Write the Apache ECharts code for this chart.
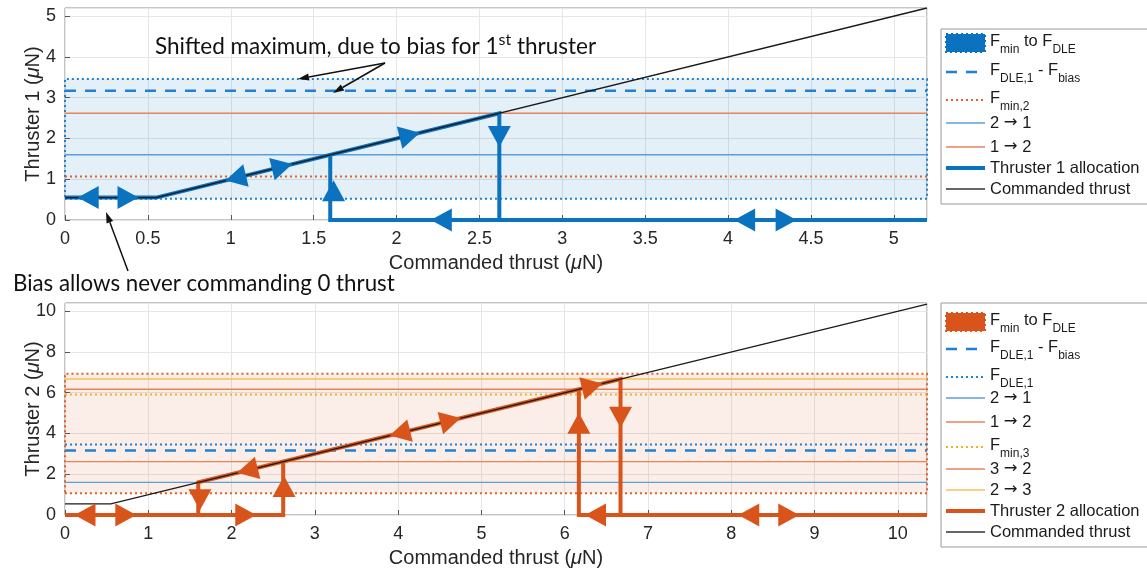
<!DOCTYPE html>
<html>
<head>
<meta charset="utf-8">
<script src="https://cdn.jsdelivr.net/npm/echarts@6/dist/echarts.min.js"></script>
<style>
  html, body { margin: 0; padding: 0; background: #fff; }
  #main { width: 1147px; height: 573px; }
</style>
</head>
<body>
<div id="main"></div>
<script>
// ---- values (uN) ----
var bias = 0.55;                       // commanded thrust never below this
var fMin1 = 0.52, fDle1 = 3.46;        // thruster 1 band
var fMin2 = 1.07, fDle2 = 6.93;        // thruster 2 band
var fDle1MinusBias = 3.17;
var fMin3 = 5.91;
var sw21 = 1.6, sw12 = 2.62;           // switch levels 2->1, 1->2
var sw32 = 6.17, sw23 = 6.67;          // switch levels 3->2, 2->3
var xMax1 = 5.2, yMax1 = 5.2;
var xMax2 = 10.35, yMax2 = 10.4;

// direction arrows on the allocation paths: [x, y, direction]
var t1Arrows = [
  [0.14, 0.55, 'L'], [0.38, 0.55, 'R'], [1.03, 1.03, 'DL'], [1.31, 1.31, 'UR'],
  [1.62, 0.72, 'U'], [2.08, 2.08, 'UR'], [2.62, 2.05, 'D'], [2.27, 0, 'L'],
  [4.1, 0, 'L'], [4.35, 0, 'R']
];
var t2Arrows = [
  [0.24, 0, 'L'], [0.73, 0, 'R'], [1.62, 0.75, 'D'], [2.17, 0, 'R'],
  [2.63, 1.4, 'U'], [2.19, 2.19, 'DL'], [4.02, 4.02, 'DL'], [4.63, 4.63, 'UR'],
  [6.33, 6.33, 'UR'], [6.17, 4.5, 'U'], [6.67, 4.8, 'D'], [6.37, 0, 'L'],
  [8.21, 0, 'L'], [8.69, 0, 'R']
];

// paths
var t1Path = [[0, bias], [bias, bias], [sw12, sw12], [sw12, 0]];
var t1Path2 = [[sw21, sw21], [sw21, 0], [xMax1, 0]];
var t2Path = [[0, 0], [sw12, 0], [sw12, sw12]];
var t2Path2 = [[sw21, 0], [sw21, sw21], [sw23, sw23], [sw23, 0]];
var t2Path3 = [[sw32, sw32], [sw32, 0], [xMax2, 0]];
var cmd1 = [[0, bias], [bias, bias], [xMax1, xMax1]];
var cmd2 = [[0, bias], [bias, bias], [xMax2, xMax2]];

var legend1Labels = [
  [['F', 'n'], ['min', 's'], [' to F', 'n'], ['DLE', 's']],
  [['F', 'n'], ['DLE,1', 's'], [' - F', 'n'], ['bias', 's']],
  [['F', 'n'], ['min,2', 's']],
  [['2 ', 'n'], ['\u2192', 'a'], [' 1', 'n']],
  [['1 ', 'n'], ['\u2192', 'a'], [' 2', 'n']],
  [['Thruster 1 allocation', 'n']],
  [['Commanded thrust', 'n']]
];
var legend2Labels = [
  [['F', 'n'], ['min', 's'], [' to F', 'n'], ['DLE', 's']],
  [['F', 'n'], ['DLE,1', 's'], [' - F', 'n'], ['bias', 's']],
  [['F', 'n'], ['DLE,1', 's']],
  [['2 ', 'n'], ['\u2192', 'a'], [' 1', 'n']],
  [['1 ', 'n'], ['\u2192', 'a'], [' 2', 'n']],
  [['F', 'n'], ['min,3', 's']],
  [['3 ', 'n'], ['\u2192', 'a'], [' 2', 'n']],
  [['2 ', 'n'], ['\u2192', 'a'], [' 3', 'n']],
  [['Thruster 2 allocation', 'n']],
  [['Commanded thrust', 'n']]
];

// ---- styles ----
var FONT = '"Liberation Sans", Arial, sans-serif';
var BLUE = '#0b72c0', ORANGE = '#d9541a', YELLOW = '#eeb123';
var BLUE_DOT = '#1f80d4', BLUE_THIN = '#5a9fdc';
var ORANGE_DOT = '#e3602a', ORANGE_THIN = '#e8825a';
var YELLOW_THIN = '#f3c25a';
var DOT = [2, 3], DASH = [11, 9];

var G1 = { left: 65, top: 8, width: 862, height: 212 };
var G2 = { left: 65, top: 303, width: 862, height: 212 };

var chart = echarts.init(document.getElementById('main'), null, { renderer: 'canvas' });

function slopeDeg(g, xm, ym) {
  return Math.atan((g.height / ym) / (g.width / xm)) * 180 / Math.PI;
}
function rotFor(dir, ang) {
  return { L: 90, R: -90, U: 0, D: 180, UR: -90 + ang, DL: 90 + ang }[dir];
}

function xAx(gi, max, step) {
  return {
    type: 'value', gridIndex: gi, min: 0, max: max, interval: step,
    name: 'Commanded thrust ({i|\u03bc}N)', nameLocation: 'middle', nameGap: 33,
    nameTextStyle: { fontSize: 20, fontFamily: FONT, color: '#262626',
      rich: { i: { fontSize: 20, fontFamily: FONT, fontStyle: 'italic', color: '#262626' } } },
    axisLine: { show: false },
    axisTick: { inside: true, length: 5, lineStyle: { color: '#555' } },
    axisLabel: { fontSize: 18, fontFamily: FONT, color: '#262626', margin: 10, showMaxLabel: false },
    splitLine: { show: true, lineStyle: { color: '#e6e6e6', width: 1 } }
  };
}
function yAx(gi, max, step, label) {
  return {
    type: 'value', gridIndex: gi, min: 0, max: max, interval: step,
    name: label + ' ({i|\u03bc}N)', nameLocation: 'middle', nameGap: 22,
    nameMoveOverlap: false,
    nameTextStyle: { fontSize: 20, fontFamily: FONT, color: '#262626',
      rich: { i: { fontSize: 20, fontFamily: FONT, fontStyle: 'italic', color: '#262626' } } },
    axisLine: { show: false },
    axisTick: { inside: true, length: 5, lineStyle: { color: '#555' } },
    axisLabel: { fontSize: 18, fontFamily: FONT, color: '#262626', margin: 9, showMaxLabel: false },
    splitLine: { show: true, lineStyle: { color: '#e6e6e6', width: 1 } }
  };
}

function level(gi, y, xm, color, width, type) {
  return {
    type: 'line', xAxisIndex: gi, yAxisIndex: gi, data: [[0, y], [xm, y]],
    symbol: 'none', silent: true, z: 2,
    lineStyle: { color: color, width: width, type: type }
  };
}
function band(gi, lo, hi, xm, fill, border) {
  var s = level(gi, lo, xm, 'rgba(0,0,0,0)', 0, 'solid');
  s.z = 1;
  s.markArea = {
    silent: true,
    itemStyle: { color: fill, borderColor: border, borderWidth: 2, borderType: DOT },
    data: [[{ yAxis: lo }, { yAxis: hi }]]
  };
  return s;
}
function path(gi, data, color, width, z) {
  return {
    type: 'line', xAxisIndex: gi, yAxisIndex: gi, data: data, symbol: 'none',
    silent: true, z: z, lineStyle: { color: color, width: width, cap: 'butt', join: 'miter' }
  };
}
function arrows(gi, list, ang, color) {
  return {
    type: 'scatter', xAxisIndex: gi, yAxisIndex: gi, symbol: 'triangle',
    symbolSize: [23, 21], silent: true, z: 6,
    itemStyle: { color: color, opacity: 1 },
    data: list.map(function (a) {
      return { value: [a[0], a[1]], symbolRotate: rotFor(a[2], ang) };
    })
  };
}

var ang1 = slopeDeg(G1, xMax1, yMax1);
var ang2 = slopeDeg(G2, xMax2, yMax2);

// ---- graphic helpers (legend + annotations) ----
var meas = document.createElement('canvas').getContext('2d');
function textRun(x, y, pieces, size, family, color) {
  var out = [], cx = x;
  pieces.forEach(function (p) {
    var fs = (p[1] === 's' || p[1] === 'p') ? Math.round(size * 0.72) : size;
    var fam = p[1] === 'a' ? '"DejaVu Sans", sans-serif' : family;
    var dy = p[1] === 's' ? size * 0.55 : (p[1] === 'p' ? -size * 0.32 : 0);
    meas.font = fs + 'px ' + fam;
    out.push({
      type: 'text', x: cx, y: y + dy, silent: true, z: 100,
      style: { text: p[0], fontSize: fs, fontFamily: fam, fill: color,
        align: 'left', verticalAlign: 'middle' }
    });
    cx += meas.measureText(p[0]).width;
  });
  return out;
}
function arrowG(x1, y1, x2, y2) {
  var dx = x2 - x1, dy = y2 - y1, L = Math.sqrt(dx * dx + dy * dy);
  var ux = dx / L, uy = dy / L, hl = 11, hw = 3.5;
  var bx = x2 - ux * hl, by = y2 - uy * hl;
  return [
    { type: 'line', silent: true, z: 100, shape: { x1: x1, y1: y1, x2: bx, y2: by },
      style: { stroke: '#111', lineWidth: 1.5 } },
    { type: 'polygon', silent: true, z: 100,
      shape: { points: [[x2, y2], [bx - uy * hw, by + ux * hw], [bx + uy * hw, by - ux * hw]] },
      style: { fill: '#111' } }
  ];
}
function legendBox(x, y, w, h, rows, labels) {
  var out = [{ type: 'rect', silent: true, z: 90, shape: { x: x, y: y, width: w, height: h },
    style: { fill: '#fff', stroke: '#9a9a9a', lineWidth: 1 } }];
  rows.forEach(function (r, i) {
    var sx = x + 5, ex = x + 44;
    if (r.patch) {
      out.push({ type: 'rect', silent: true, z: 95, shape: { x: sx, y: r.y - 9, width: ex - sx, height: 18 },
        style: { fill: r.color, stroke: r.color, lineWidth: 2, lineDash: DOT } });
    } else {
      out.push({ type: 'line', silent: true, z: 95, shape: { x1: sx, y1: r.y, x2: ex, y2: r.y },
        style: { stroke: r.color, lineWidth: r.w, lineDash: r.dash || null } });
    }
    var hasSub = labels[i].some(function (p) { return p[1] === 's'; });
    out = out.concat(textRun(x + 49, r.y - (hasSub ? 2 : 0), labels[i], 16.5, FONT, '#1a1a1a'));
  });
  return out;
}

var legend1Rows = [
  { y: 43, patch: true, color: BLUE },
  { y: 72, color: BLUE_DOT, w: 2.5, dash: DASH },
  { y: 100, color: ORANGE_DOT, w: 2, dash: DOT },
  { y: 123, color: BLUE_THIN, w: 1.5 },
  { y: 147, color: ORANGE_THIN, w: 1.5 },
  { y: 168, color: BLUE, w: 4 },
  { y: 189, color: '#333', w: 1.3 }
];
var legend2Rows = [
  { y: 322, patch: true, color: ORANGE },
  { y: 349, color: BLUE_DOT, w: 2.5, dash: DASH },
  { y: 377, color: BLUE_DOT, w: 2, dash: DOT },
  { y: 398, color: BLUE_THIN, w: 1.5 },
  { y: 422, color: ORANGE_THIN, w: 1.5 },
  { y: 447, color: YELLOW, w: 2, dash: DOT },
  { y: 469, color: ORANGE_THIN, w: 1.5 },
  { y: 490, color: YELLOW_THIN, w: 1.5 },
  { y: 511, color: ORANGE, w: 4 },
  { y: 532, color: '#333', w: 1.3 }
];

var ANNOT = 'Lato, "Open Sans", sans-serif';
var graphics = []
  .concat(legendBox(941, 29, 220, 175, legend1Rows, legend1Labels))
  .concat(legendBox(941, 303, 220, 244, legend2Rows, legend2Labels))
  .concat(textRun(155, 47, [['Shifted maximum, due to bias for 1', 'n'], ['st', 'p'], [' thruster', 'n']], 22.5, ANNOT, '#111'))
  .concat(textRun(13, 284, [['Bias allows never commanding 0 thrust', 'n']], 22.3, ANNOT, '#111'))
  .concat(arrowG(385, 63, 298, 79))
  .concat(arrowG(385, 63, 333, 93))
  .concat(arrowG(128, 271, 106, 212));

var option = {
  animation: false,
  backgroundColor: '#fff',
  grid: [
    Object.assign({ show: true, borderColor: '#8a8a8a', borderWidth: 1, backgroundColor: 'transparent' }, G1),
    Object.assign({ show: true, borderColor: '#8a8a8a', borderWidth: 1, backgroundColor: 'transparent' }, G2)
  ],
  xAxis: [xAx(0, xMax1, 0.5), xAx(1, xMax2, 1)],
  yAxis: [yAx(0, yMax1, 1, 'Thruster 1'), yAx(1, yMax2, 2, 'Thruster 2')],
  series: [
    // thruster 1 panel
    band(0, fMin1, fDle1, xMax1, 'rgba(0,114,189,0.11)', BLUE_DOT),
    level(0, fDle1MinusBias, xMax1, BLUE_DOT, 2.5, DASH),
    level(0, sw12, xMax1, ORANGE_THIN, 1.4, 'solid'),
    level(0, sw21, xMax1, BLUE_THIN, 1.4, 'solid'),
    level(0, fMin2, xMax1, ORANGE_DOT, 2, DOT),
    path(0, t1Path, BLUE, 4, 3),
    path(0, t1Path2, BLUE, 4, 3),
    path(0, cmd1, '#1a1a1a', 1.3, 4),
    arrows(0, t1Arrows, ang1, BLUE),
    // thruster 2 panel
    band(1, fMin2, fDle2, xMax2, 'rgba(217,83,25,0.1)', ORANGE_DOT),
    level(1, sw23, xMax2, YELLOW_THIN, 1.4, 'solid'),
    level(1, sw32, xMax2, ORANGE_THIN, 1.4, 'solid'),
    level(1, fMin3, xMax2, YELLOW, 2, DOT),
    level(1, fDle1, xMax2, BLUE_DOT, 2, DOT),
    level(1, fDle1MinusBias, xMax2, BLUE_DOT, 2.5, DASH),
    level(1, sw12, xMax2, ORANGE_THIN, 1.4, 'solid'),
    level(1, sw21, xMax2, BLUE_THIN, 1.4, 'solid'),
    path(1, t2Path, ORANGE, 4, 3),
    path(1, t2Path2, ORANGE, 4, 3),
    path(1, t2Path3, ORANGE, 4, 3),
    path(1, cmd2, '#1a1a1a', 1.3, 4),
    arrows(1, t2Arrows, ang2, ORANGE)
  ],
  graphic: graphics
};

chart.setOption(option);
</script>
</body>
</html>
